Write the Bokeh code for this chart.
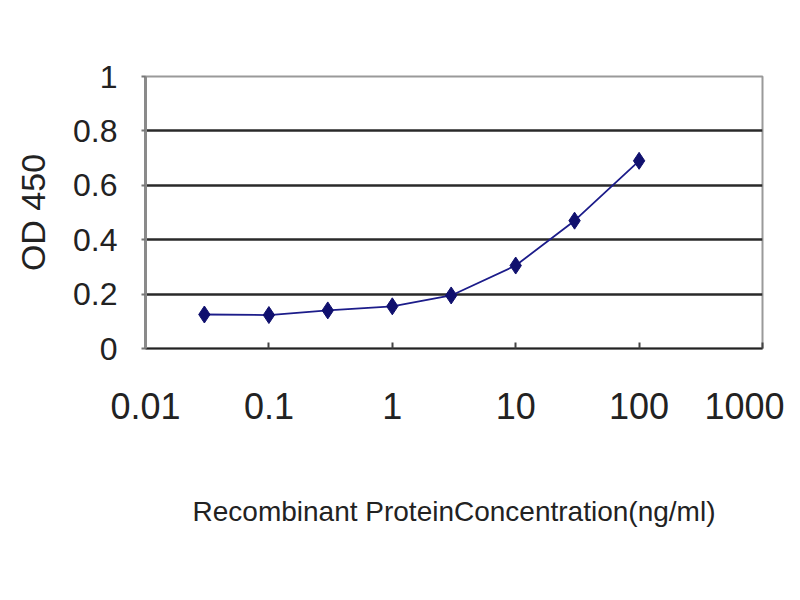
from bokeh.plotting import figure
from bokeh.models import Range1d, FixedTicker
from bokeh.embed import file_html
from bokeh.resources import INLINE

# Data
concentration = [0.03, 0.1, 0.3, 1, 3, 10, 30, 100]
od450 = [0.125, 0.123, 0.14, 0.155, 0.195, 0.305, 0.47, 0.69]

x_ticks = [0.01, 0.1, 1, 10, 100, 1000]
x_tick_labels = ["0.01", "0.1", "1", "10", "100", "1000"]
y_ticks = [0, 0.2, 0.4, 0.6, 0.8, 1]
y_tick_labels = ["0", "0.2", "0.4", "0.6", "0.8", "1"]
grid_ticks = [0.2, 0.4, 0.6, 0.8]

x_title = "Recombinant ProteinConcentration(ng/ml)"
y_title = "OD 450"

FONT = "'Liberation Sans', Arial, sans-serif"

p = figure(width=784, height=584, x_axis_type="log",
           x_range=Range1d(0.01, 1000), y_range=Range1d(0, 1),
           output_backend="svg", toolbar_location=None,
           min_border_left=145, min_border_right=22,
           min_border_top=76, min_border_bottom=236)
p.frame_width = 617
p.frame_height = 272
p.background_fill_color = "white"
p.border_fill_color = "white"
p.outline_line_color = "#9a9a9a"
p.outline_line_width = 2

# axes
xa = p.xaxis[0]
xa.ticker = FixedTicker(ticks=x_ticks)
xa.major_label_overrides = dict(zip(x_ticks, x_tick_labels))
xa.minor_tick_line_color = None
xa.major_tick_in = 6
xa.major_tick_out = 0
xa.major_tick_line_color = "#444444"
xa.major_tick_line_width = 2
xa.axis_line_color = "#222222"
xa.axis_line_width = 2
xa.major_label_text_font = FONT
xa.major_label_text_font_size = "36px"
xa.major_label_text_color = "#222222"
xa.major_label_standoff = 44
xa.axis_label = x_title
xa.axis_label_text_font = FONT
xa.axis_label_text_font_size = "28px"
xa.axis_label_text_font_style = "normal"
xa.axis_label_text_color = "#222222"
xa.axis_label_standoff = 74

ya = p.yaxis[0]
ya.ticker = FixedTicker(ticks=y_ticks)
ya.major_label_overrides = dict(zip(y_ticks, y_tick_labels))
ya.minor_tick_line_color = None
ya.major_tick_in = 0
ya.major_tick_out = 4
ya.major_tick_line_color = "#777777"
ya.major_tick_line_width = 2
ya.axis_line_color = "#8a8a8a"
ya.axis_line_width = 3
ya.major_label_text_font = FONT
ya.major_label_text_font_size = "32px"
ya.major_label_text_color = "#222222"
ya.major_label_standoff = 24
ya.axis_label = y_title
ya.axis_label_text_font = FONT
ya.axis_label_text_font_size = "34px"
ya.axis_label_text_font_style = "normal"
ya.axis_label_text_color = "#222222"
ya.axis_label_standoff = 18

# grid
p.xgrid.grid_line_color = None
p.ygrid.ticker = FixedTicker(ticks=grid_ticks)
p.ygrid.grid_line_color = "#2a2a2a"
p.ygrid.grid_line_width = 2.5

# series
p.line(concentration, od450, line_color="#1c1c8a", line_width=1.8)
p.scatter(concentration, od450, marker="diamond", size=17,
          fill_color="#10106e", line_color="#10106e")

open("out.html", "w").write(file_html(p, INLINE))
